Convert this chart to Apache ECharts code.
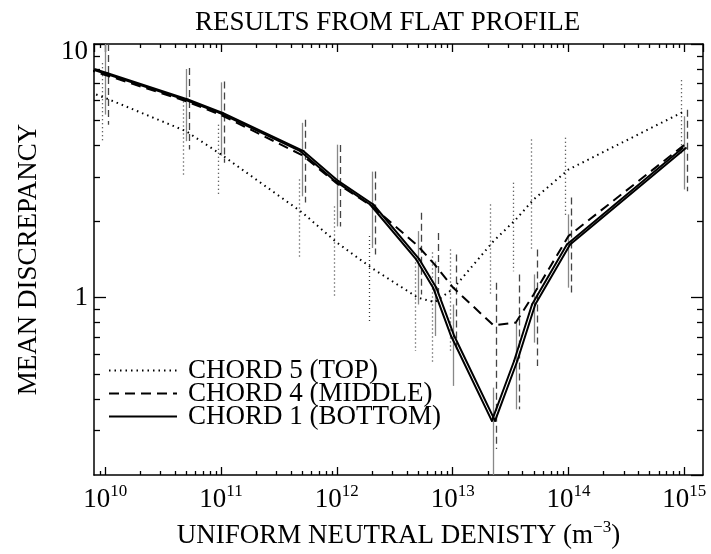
<!DOCTYPE html>
<html><head><meta charset="utf-8">
<script src="https://cdn.jsdelivr.net/npm/echarts@6/dist/echarts.min.js"></script>
<style>html,body{margin:0;padding:0;background:#fff}#c{width:711px;height:554px}</style>
</head><body><div id="c"></div>
<script>
// Uniform neutral density (m^-3); first entry is a lead-in point just left of the frame
const densities = [5e9, 1e10, 5e10, 1e11, 5e11, 1e12, 2e12, 5e12, 7e12, 1e13, 2.25e13, 3.5e13, 5e13, 1e14, 1e15];
// Mean discrepancy per chord
const chord5 = [6.9, 6.13, 4.53, 3.67, 2.17, 1.65, 1.31, 1.0, 0.96, 1.08, 1.67, 2.03, 2.44, 3.2, 5.43];
const chord4 = [8.4, 7.55, 5.95, 5.25, 3.65, 2.82, 2.30, 1.6, 1.35, 1.1, 0.778, 0.797, 1.03, 1.75, 4.0];
const chord1 = [8.5, 7.69, 6.04, 5.35, 3.78, 2.88, 2.33, 1.415, 1.095, 0.706, 0.327, 0.563, 0.94, 1.62, 3.89];
// Error bar ranges
const chord5Low  = [null, 4.1, 3.01, 2.55, 1.415, 1.0, 0.809, 0.616, 0.546, 0.616, 1.03, 1.27, 1.55, 2.1, 3.61];
const chord5High = [null, 8.4, 5.94, 4.81, 2.92, 2.29, 1.75, 1.377, 1.508, 1.55, 2.33, 2.84, 4.2, 4.27, 7.2];
const chord4Low  = [null, 4.81, 3.84, 3.4, 2.37, 1.91, 1.48, 1.03, 0.985, 0.626, 0.253, 0.363, 0.538, 1.015, 2.63];
const chord4High = [null, 11, 8.05, 7.12, 5.03, 4.0, 3.14, 2.16, 1.8, 1.48, 1.146, 1.235, 1.55, 2.48, 5.51];
const chord1Low  = [null, 5.27, 4.14, 3.63, 2.51, 1.91, 1.57, 0.94, 0.706, 0.449, 0.15, 0.363, 0.665, 1.095, 2.67];
const chord1High = [null, 11, 7.97, 7.06, 4.89, 4.01, 3.14, 1.83, 1.39, 0.94, 0.442, 0.797, 1.235, 2.13, 5.19];
// Axis ranges and minor ticks
const xRange = [8e9, 1.45e15];
const yRange = [0.2, 10];
const xMinorTicks = [9e9,
  2e10, 3e10, 4e10, 5e10, 6e10, 7e10, 8e10, 9e10,
  2e11, 3e11, 4e11, 5e11, 6e11, 7e11, 8e11, 9e11,
  2e12, 3e12, 4e12, 5e12, 6e12, 7e12, 8e12, 9e12,
  2e13, 3e13, 4e13, 5e13, 6e13, 7e13, 8e13, 9e13,
  2e14, 3e14, 4e14, 5e14, 6e14, 7e14, 8e14, 9e14];
const yMinorTicks = [0.3, 0.4, 0.5, 0.6, 0.7, 0.8, 0.9, 2, 3, 4, 5, 6, 7, 8, 9];
const legendNames = ['CHORD 5 (TOP)', 'CHORD 4 (MIDDLE)', 'CHORD 1 (BOTTOM)'];

const FONT = '"Liberation Serif", "DejaVu Serif", serif';
const chart = echarts.init(document.getElementById('c'));

function isPow10(v) { const l = Math.log10(v); return Math.abs(l - Math.round(l)) < 1e-6; }

function errSeries(name, low, high, dx, color, dash) {
  const data = [];
  densities.forEach((x, i) => { if (low[i] != null) data.push([x, low[i], high[i]]); });
  return {
    type: 'custom', name: name + ' err', silent: true, z: 1,
    data: data, encode: { x: 0, y: [1, 2] },
    renderItem: function (params, api) {
      const cs = params.coordSys;
      const p1 = api.coord([api.value(0), api.value(1)]);
      const p2 = api.coord([api.value(0), api.value(2)]);
      const x = Math.round(p1[0] + dx) + 0.5;
      const yTop = Math.max(cs.y, Math.min(p1[1], p2[1]));
      const yBot = Math.min(cs.y + cs.height, Math.max(p1[1], p2[1]));
      return { type: 'line', shape: { x1: x, y1: yTop, x2: x, y2: yBot },
        style: { stroke: color, lineWidth: 1.3, lineDash: dash } };
    }
  };
}

// clip a segment horizontally to [xmin, xmax]
function clipSeg(a, b, xmin, xmax) {
  a = a.slice(); b = b.slice();
  if (a[0] < xmin && b[0] > xmin) { const t = (xmin - a[0]) / (b[0] - a[0]); a = [xmin, a[1] + t * (b[1] - a[1])]; }
  if (b[0] > xmax && a[0] < xmax) { const t = (xmax - a[0]) / (b[0] - a[0]); b = [xmax, a[1] + t * (b[1] - a[1])]; }
  return [a, b];
}

const option = {
  backgroundColor: '#fff',
  animation: false,
  title: {
    text: 'RESULTS FROM FLAT PROFILE', left: 190, top: 4,
    textStyle: { fontFamily: FONT, fontSize: 27, fontWeight: 'normal', color: '#000' }
  },
  legend: {
    data: legendNames, orient: 'vertical', left: 103, top: 352,
    itemWidth: 68, itemHeight: 14, itemGap: -4,
    textStyle: { fontFamily: FONT, fontSize: 27, color: '#000', padding: [0, 0, 0, 6] },
    itemStyle: { opacity: 0 },
    lineStyle: { width: 2, opacity: 1, color: '#000' }
  },
  grid: { left: 94, right: 8, top: 44, bottom: 79 },
  xAxis: [{
    type: 'log', logBase: 10, min: xRange[0], max: xRange[1], position: 'bottom',
    axisLine: { lineStyle: { color: '#000', width: 1.5 } },
    axisTick: { inside: true, length: 8, lineStyle: { color: '#000', width: 1.3 } },
    splitLine: { show: false },
    axisLabel: {
      showMinLabel: false, showMaxLabel: false, margin: 8, color: '#000',
      formatter: function (v) { if (!isPow10(v)) return ''; return '{b|10}{s|' + Math.round(Math.log10(v)) + '}'; },
      rich: {
        b: { fontFamily: FONT, fontSize: 27, lineHeight: 30, verticalAlign: 'bottom', color: '#000' },
        s: { fontFamily: FONT, fontSize: 17, lineHeight: 17, verticalAlign: 'top', color: '#000' }
      }
    },
    name: '{t|UNIFORM NEUTRAL DENISTY (m}{s|−3}{t|)}', nameLocation: 'middle', nameGap: 44,
    nameTextStyle: {
      rich: {
        t: { fontFamily: FONT, fontSize: 27, lineHeight: 30, verticalAlign: 'bottom', color: '#000' },
        s: { fontFamily: FONT, fontSize: 17, lineHeight: 17, verticalAlign: 'top', color: '#000' }
      }
    }
  }, {
    type: 'log', logBase: 10, min: xRange[0], max: xRange[1], position: 'top',
    axisLine: { lineStyle: { color: '#000', width: 1.5 } },
    axisTick: { inside: true, length: 8, lineStyle: { color: '#000', width: 1.3 } },
    axisLabel: { show: false }, splitLine: { show: false }
  }],
  yAxis: [{
    type: 'log', logBase: 10, min: yRange[0], max: yRange[1], position: 'left',
    axisLine: { lineStyle: { color: '#000', width: 1.5 } },
    axisTick: { inside: true, length: 12, lineStyle: { color: '#000', width: 1.3 } },
    splitLine: { show: false },
    axisLabel: {
      showMinLabel: false, margin: 6, color: '#000',
      formatter: function (v) { if (!isPow10(v)) return ''; return v >= 10 ? '{top|' + Math.round(v) + '}' : '{n|' + Math.round(v) + '}'; },
      rich: {
        n: { fontFamily: FONT, fontSize: 27, color: '#000' },
        top: { fontFamily: FONT, fontSize: 27, color: '#000', padding: [16, 0, 0, 0] }
      }
    },
    name: 'MEAN DISCREPANCY', nameLocation: 'middle', nameGap: 52, nameRotate: 90,
    nameTextStyle: { fontFamily: FONT, fontSize: 27, color: '#000' }
  }, {
    type: 'log', logBase: 10, min: yRange[0], max: yRange[1], position: 'right',
    axisLine: { lineStyle: { color: '#000', width: 1.5 } },
    axisTick: { inside: true, length: 12, lineStyle: { color: '#000', width: 1.3 } },
    axisLabel: { show: false }, splitLine: { show: false }
  }],
  series: [
    // minor ticks on x axes
    {
      type: 'custom', silent: true, z: 5, data: xMinorTicks.map(v => [v, 1]), encode: { x: 0, y: 1 },
      renderItem: function (params, api) {
        const cs = params.coordSys;
        const x = Math.round(api.coord([api.value(0), 1])[0]) + 0.5;
        const st = { stroke: '#000', lineWidth: 1.3 };
        return { type: 'group', children: [
          { type: 'line', shape: { x1: x, y1: cs.y + cs.height, x2: x, y2: cs.y + cs.height - 4 }, style: st },
          { type: 'line', shape: { x1: x, y1: cs.y, x2: x, y2: cs.y + 4 }, style: st }
        ] };
      }
    },
    // minor ticks on y axes
    {
      type: 'custom', silent: true, z: 5, data: yMinorTicks.map(v => [1e12, v]), encode: { x: 0, y: 1 },
      renderItem: function (params, api) {
        const cs = params.coordSys;
        const y = Math.round(api.coord([1e12, api.value(1)])[1]) + 0.5;
        const st = { stroke: '#000', lineWidth: 1.3 };
        return { type: 'group', children: [
          { type: 'line', shape: { x1: cs.x, y1: y, x2: cs.x + 6, y2: y }, style: st },
          { type: 'line', shape: { x1: cs.x + cs.width, y1: y, x2: cs.x + cs.width - 6, y2: y }, style: st }
        ] };
      }
    },
    errSeries('c5', chord5Low, chord5High, -3, '#333', [1, 3]),
    errSeries('c1', chord1Low, chord1High, 0, '#888', null),
    errSeries('c4', chord4Low, chord4High, 3, '#444', [7, 4]),
    {
      name: legendNames[0], type: 'line', symbol: 'none', z: 3,
      data: densities.map((x, i) => [x, chord5[i]]),
      lineStyle: { color: '#000', width: 2, type: [1.5, 4] }, itemStyle: { color: '#000' }
    },
    {
      name: legendNames[1], type: 'line', symbol: 'none', z: 3,
      data: densities.map((x, i) => [x, chord4[i]]),
      lineStyle: { color: '#000', width: 2, type: [10, 6] }, itemStyle: { color: '#000' }
    },
    {
      // carries the legend entry; the visible stroke is the doubled trace below
      name: legendNames[2], type: 'line', symbol: 'none', z: 4,
      data: densities.map((x, i) => [x, chord1[i]]),
      lineStyle: { color: '#000', width: 2, opacity: 0 }, itemStyle: { color: '#000' }
    },
    {
      // chord 1 drawn as two strokes with a slight horizontal shift (double-line look)
      type: 'custom', silent: true, z: 4,
      data: densities.map((x, i) => [x, chord1[i], i]), encode: { x: 0, y: 1 },
      renderItem: function (params, api) {
        const i = api.value(2);
        if (i >= densities.length - 1) return;
        const cs = params.coordSys;
        const a0 = api.coord([densities[i], chord1[i]]);
        const b0 = api.coord([densities[i + 1], chord1[i + 1]]);
        const kids = [-1.6, 1.6].map(function (d) {
          const seg = clipSeg([a0[0] + d, a0[1]], [b0[0] + d, b0[1]], cs.x + 1, cs.x + cs.width - 1);
          return { type: 'line', shape: { x1: seg[0][0], y1: seg[0][1], x2: seg[1][0], y2: seg[1][1] },
            style: { stroke: '#000', lineWidth: 2, lineCap: 'round' } };
        });
        return { type: 'group', children: kids };
      }
    }
  ]
};
chart.setOption(option);
</script></body></html>
